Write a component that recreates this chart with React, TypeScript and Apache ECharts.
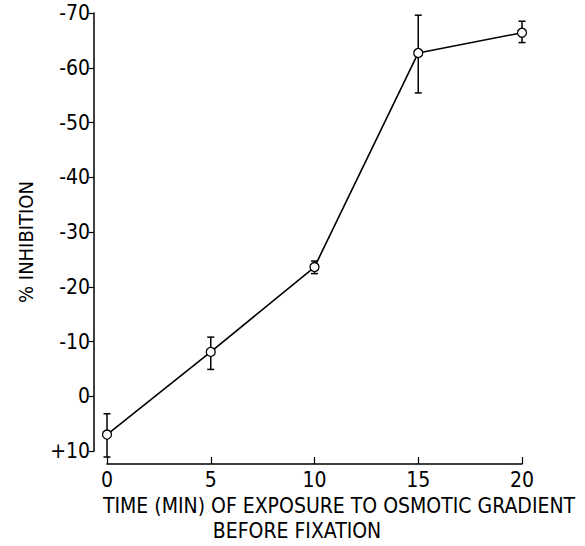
import React, { useEffect, useRef } from "react";
import * as echarts from "echarts";

const times = [0, 5, 10, 15, 20];
const inhibition = [7, -8.1, -23.6, -62.7, -66.4];
const errUpper = [3.2, -10.8, -24.7, -69.6, -68.5];
const errLower = [11.1, -4.9, -22.4, -55.4, -64.6];
const xTicks = [0, 5, 10, 15, 20];
const yMin = -70;
const yMax = 10;

const FONT = "'Liberation Sans Narrow', 'DejaVu Sans Condensed', 'Liberation Sans', sans-serif";

export default function App() {
  const ref = useRef<HTMLDivElement>(null);
  useEffect(() => {
    if (!ref.current) return;
    const chart = echarts.init(ref.current, null, { renderer: "svg" });
    const errData = times.map((t, i) => [t, errUpper[i], errLower[i]]);
    chart.setOption({
      animation: false,
      backgroundColor: "#fff",
      grid: { left: 107, right: 63, top: 13, bottom: 95 },
      xAxis: {
        type: "value",
        min: xTicks[0],
        max: xTicks[xTicks.length - 1],
        interval: 5,
        offset: 13,
        axisLine: { show: true, onZero: false, lineStyle: { color: "#000", width: 1.5 } },
        axisTick: { show: true, inside: true, length: 7, lineStyle: { color: "#000", width: 1.2 } },
        axisLabel: { color: "#000", fontSize: 21, fontFamily: FONT, margin: 5 },
        splitLine: { show: false },
      },
      yAxis: {
        type: "value",
        inverse: true,
        min: yMin,
        max: yMax,
        interval: 10,
        offset: 13,
        axisLine: { show: true, onZero: false, lineStyle: { color: "#000", width: 1.5 } },
        axisTick: { show: true, length: 5, lineStyle: { color: "#000", width: 1.2 } },
        axisLabel: {
          color: "#000",
          fontSize: 21,
          fontFamily: FONT,
          margin: 4,
          formatter: (v: number) => (v > 0 ? "+" + v : String(v)),
        },
        splitLine: { show: false },
      },
      graphic: [
        {
          type: "text",
          x: 339,
          y: 506,
          style: {
            text: "TIME (MIN) OF EXPOSURE TO OSMOTIC GRADIENT",
            font: "21px " + FONT,
            fill: "#000",
            align: "center",
            verticalAlign: "middle",
          },
        },
        {
          type: "text",
          x: 297,
          y: 531,
          style: {
            text: "BEFORE FIXATION",
            font: "21px " + FONT,
            fill: "#000",
            align: "center",
            verticalAlign: "middle",
          },
        },
        {
          type: "text",
          x: 26,
          y: 242,
          rotation: Math.PI / 2,
          style: {
            text: "% INHIBITION",
            font: "20px " + FONT,
            fill: "#000",
            align: "center",
            verticalAlign: "middle",
          },
        },
      ],
      series: [
        {
          type: "custom",
          clip: false,
          z: 3,
          data: errData,
          renderItem: (params: any, api: any) => {
            const x = api.value(0);
            const top = api.coord([x, api.value(1)]);
            const bot = api.coord([x, api.value(2)]);
            const w = 3.5;
            const style = { stroke: "#000", lineWidth: 1.5 };
            return {
              type: "group",
              children: [
                { type: "line", shape: { x1: top[0], y1: top[1], x2: bot[0], y2: bot[1] }, style },
                { type: "line", shape: { x1: top[0] - w, y1: top[1], x2: top[0] + w, y2: top[1] }, style },
                { type: "line", shape: { x1: bot[0] - w, y1: bot[1], x2: bot[0] + w, y2: bot[1] }, style },
              ],
            };
          },
        },
        {
          type: "line",
          z: 5,
          data: times.map((t, i) => [t, inhibition[i]]),
          symbol: "circle",
          symbolSize: 9,
          itemStyle: { color: "#fff", borderColor: "#000", borderWidth: 1.3 },
          lineStyle: { color: "#000", width: 1.6 },
        },
      ],
    });
    return () => chart.dispose();
  }, []);
  return (
    <div
      ref={ref}
      style={{ position: "absolute", left: 0, top: 0, width: 585, height: 546 }}
    />
  );
}
